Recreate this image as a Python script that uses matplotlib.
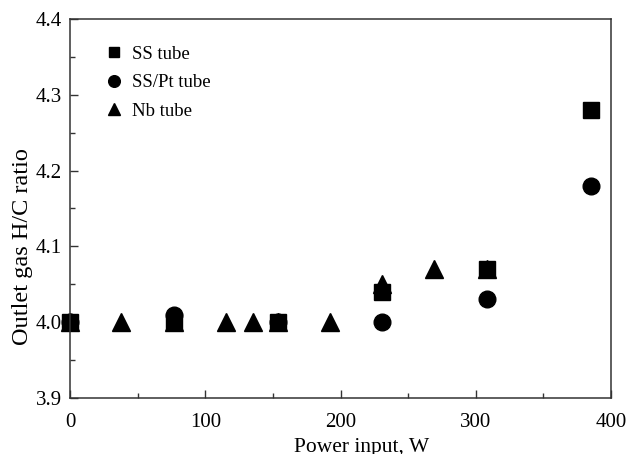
import matplotlib
matplotlib.use('Agg')
import matplotlib.pyplot as plt
from matplotlib.ticker import MultipleLocator

plt.rcParams['font.family'] = ['Liberation Serif', 'DejaVu Serif']

# data
ss_x = [0, 77, 154, 231, 308, 385]
ss_y = [4.00, 4.00, 4.00, 4.04, 4.07, 4.28]
sspt_x = [0, 77, 154, 231, 308, 385]
sspt_y = [4.00, 4.01, 4.00, 4.00, 4.03, 4.18]
nb_x = [0, 38, 77, 115, 135, 154, 192, 231, 269, 308]
nb_y = [4.00, 4.00, 4.00, 4.00, 4.00, 4.00, 4.00, 4.05, 4.07, 4.07]

fig = plt.figure(figsize=(6.27, 4.54), dpi=100)
ax = fig.add_axes([0.1116, 0.1233, 0.863, 0.835])

ax.plot(ss_x, ss_y, 's', color='black', ms=11, ls='none', label='SS tube', clip_on=False)
ax.plot(sspt_x, sspt_y, 'o', color='black', ms=12, ls='none', label='SS/Pt tube', clip_on=False)
ax.plot(nb_x, nb_y, '^', color='black', ms=13, ls='none', label='Nb tube', clip_on=False)

ax.set_xlim(0, 400)
ax.set_ylim(3.9, 4.4)
ax.xaxis.set_major_locator(MultipleLocator(100))
ax.xaxis.set_minor_locator(MultipleLocator(50))
ax.yaxis.set_major_locator(MultipleLocator(0.1))
ax.yaxis.set_minor_locator(MultipleLocator(0.05))
ax.yaxis.set_major_formatter(plt.FormatStrFormatter('%.1f'))
ax.tick_params(which='both', direction='in', top=False, right=False, labelsize=15, color='#333333')
ax.tick_params(which='major', length=6, width=1)
ax.tick_params(which='minor', length=3.5, width=1)
ax.tick_params(axis='y', pad=6)
ax.tick_params(axis='x', pad=11)
for s in ax.spines.values():
    s.set_linewidth(1.1)
    s.set_color('#333333')

ax.set_xlabel('Power input, W', fontsize=15.5)
ax.set_ylabel('Outlet gas H/C ratio', fontsize=17.5)
ax.xaxis.set_label_coords(0.538, -0.105)
ax.yaxis.set_label_coords(-0.068, 0.40)

ax.legend(loc='upper left', bbox_to_anchor=(0.05, 0.95), frameon=False, fontsize=13.5,
          markerscale=0.7, handlelength=1.0, handletextpad=0.45, labelspacing=0.62,
          borderaxespad=0)

plt.savefig('out.png', dpi=100)
plt.close()
